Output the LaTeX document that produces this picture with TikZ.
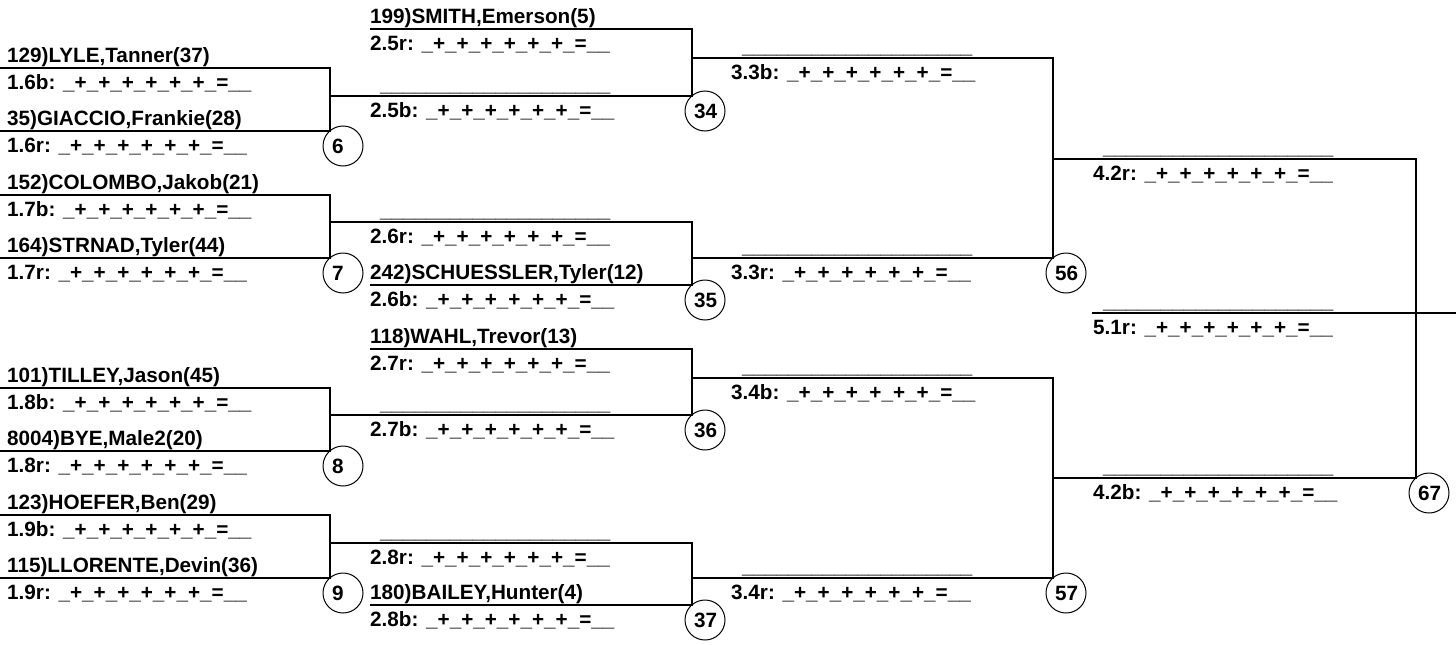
\documentclass[tikz,border=0pt]{standalone}
\usepackage{fontspec}
\setmainfont{Liberation Sans}
\usetikzlibrary{
  calc,
  positioning,
}

\newcommand{\tally}{\_+\_+\_+\_+\_+\_+\_=\_\_}
\newcommand{\tbdline}{\_\_\_\_\_\_\_\_\_\_\_\_\_\_\_\_\_\_\_\_}

\tikzset{
  lbl/.style={inner sep=0pt, text height=15pt, text depth=4pt,
    font=\fontsize{20.7pt}{24pt}\selectfont\bfseries},
  entrant/.style={lbl, anchor=south west},
  score/.style={lbl},
  tbd/.style={lbl},
  seed/.style={circle, draw, line width=1pt, minimum size=40pt, inner sep=0pt,
    text width=22pt, align=left, text height=15pt, text depth=0pt,
    font=\fontsize{20.7pt}{24pt}\selectfont\bfseries},
  bracket/.style={line width=1.2pt},
}

\begin{document}
\begin{tikzpicture}[x=1pt, y=-1pt]
\useasboundingbox (0,0) rectangle (1456,645);

\coordinate (a16b) at (0,68);
\coordinate (a16r) at (0,131);
\coordinate (a17b) at (0,195);
\coordinate (a17r) at (0,258);
\coordinate (a18b) at (0,388);
\coordinate (a18r) at (0,451);
\coordinate (a19b) at (0,515);
\coordinate (a19r) at (0,578);

\coordinate (w6) at (330,96);
\coordinate (w7) at (330,222);
\coordinate (w8) at (330,415);
\coordinate (w9) at (330,543);

\coordinate (a25r) at (370,29);
\coordinate (a26b) at (370,285);
\coordinate (a27r) at (370,349);
\coordinate (a28b) at (370,605);

\coordinate (w34) at (692,58);
\coordinate (w35) at (692,258);
\coordinate (w36) at (692,378);
\coordinate (w37) at (692,578);
\coordinate (w56) at (1053,159);
\coordinate (w57) at (1053,478);
\coordinate (w67) at (1416,313);
\coordinate (a51r) at (1092,313);
\coordinate (e51r) at (1456,313);

% first round
\node[entrant, above right=1pt and 7pt of a16b] (n16b) {129)LYLE,Tanner(37)};
\node[score, below right=6pt and 7pt of a16b] (s16b) {1.6b: \tally};
\node[entrant, above right=1pt and 7pt of a16r] (n16r) {35)GIACCIO,Frankie(28)};
\node[score, below right=6pt and 7pt of a16r] (s16r) {1.6r: \tally};
\node[entrant, above right=1pt and 7pt of a17b] (n17b) {152)COLOMBO,Jakob(21)};
\node[score, below right=6pt and 7pt of a17b] (s17b) {1.7b: \tally};
\node[entrant, above right=1pt and 7pt of a17r] (n17r) {164)STRNAD,Tyler(44)};
\node[score, below right=6pt and 7pt of a17r] (s17r) {1.7r: \tally};
\node[entrant, above right=1pt and 7pt of a18b] (n18b) {101)TILLEY,Jason(45)};
\node[score, below right=6pt and 7pt of a18b] (s18b) {1.8b: \tally};
\node[entrant, above right=1pt and 7pt of a18r] (n18r) {8004)BYE,Male2(20)};
\node[score, below right=6pt and 7pt of a18r] (s18r) {1.8r: \tally};
\node[entrant, above right=1pt and 7pt of a19b] (n19b) {123)HOEFER,Ben(29)};
\node[score, below right=6pt and 7pt of a19b] (s19b) {1.9b: \tally};
\node[entrant, above right=1pt and 7pt of a19r] (n19r) {115)LLORENTE,Devin(36)};
\node[score, below right=6pt and 7pt of a19r] (s19r) {1.9r: \tally};

\draw[bracket] (a16b) -| (w6) |- (a16r);
\draw[bracket] (a17b) -| (w7) |- (a17r);
\draw[bracket] (a18b) -| (w8) |- (a18r);
\draw[bracket] (a19b) -| (w9) |- (a19r);
\node[seed] (c6) at ($(w6 |- a16r)+(13,15)$) {6};
\node[seed] (c7) at ($(w7 |- a17r)+(13,15)$) {7};
\node[seed] (c8) at ($(w8 |- a18r)+(13,15)$) {8};
\node[seed] (c9) at ($(w9 |- a19r)+(13,15)$) {9};

% second round
\node[entrant, above right=1pt and 0pt of a25r] (n25r) {199)SMITH,Emerson(5)};
\node[score, below right=6pt and 0pt of a25r] (s25r) {2.5r: \tally};
\node[tbd, above right=0pt and 50pt of w6] (t25b) {\tbdline};
\node[score, below right=6pt and 40pt of w6] (s25b) {2.5b: \tally};
\node[tbd, above right=0pt and 50pt of w7] (t26r) {\tbdline};
\node[score, below right=6pt and 40pt of w7] (s26r) {2.6r: \tally};
\node[entrant, above right=1pt and 0pt of a26b] (n26b) {242)SCHUESSLER,Tyler(12)};
\node[score, below right=6pt and 0pt of a26b] (s26b) {2.6b: \tally};
\node[entrant, above right=1pt and 0pt of a27r] (n27r) {118)WAHL,Trevor(13)};
\node[score, below right=6pt and 0pt of a27r] (s27r) {2.7r: \tally};
\node[tbd, above right=0pt and 50pt of w8] (t27b) {\tbdline};
\node[score, below right=6pt and 40pt of w8] (s27b) {2.7b: \tally};
\node[tbd, above right=0pt and 50pt of w9] (t28r) {\tbdline};
\node[score, below right=6pt and 40pt of w9] (s28r) {2.8r: \tally};
\node[entrant, above right=1pt and 0pt of a28b] (n28b) {180)BAILEY,Hunter(4)};
\node[score, below right=6pt and 0pt of a28b] (s28b) {2.8b: \tally};

\draw[bracket] (a25r) -| (w34) |- (w6);
\draw[bracket] (w7) -| (w35) |- (a26b);
\draw[bracket] (a27r) -| (w36) |- (w8);
\draw[bracket] (w9) -| (w37) |- (a28b);
\node[seed] (c34) at ($(w34 |- w6)+(13,15)$) {34};
\node[seed] (c35) at ($(w35 |- a26b)+(13,15)$) {35};
\node[seed] (c36) at ($(w36 |- w8)+(13,15)$) {36};
\node[seed] (c37) at ($(w37 |- a28b)+(13,15)$) {37};

% third round
\node[tbd, above right=0pt and 50pt of w34] (t33b) {\tbdline};
\node[score, below right=6pt and 39pt of w34] (s33b) {3.3b: \tally};
\node[tbd, above right=0pt and 50pt of w35] (t33r) {\tbdline};
\node[score, below right=6pt and 39pt of w35] (s33r) {3.3r: \tally};
\node[tbd, above right=0pt and 50pt of w36] (t34b) {\tbdline};
\node[score, below right=6pt and 39pt of w36] (s34b) {3.4b: \tally};
\node[tbd, above right=0pt and 50pt of w37] (t34r) {\tbdline};
\node[score, below right=6pt and 39pt of w37] (s34r) {3.4r: \tally};

\draw[bracket] (w34) -| (w56) |- (w35);
\draw[bracket] (w36) -| (w57) |- (w37);
\node[seed] (c56) at ($(w56 |- w35)+(13,15)$) {56};
\node[seed] (c57) at ($(w57 |- w37)+(13,15)$) {57};

% semi and final
\node[tbd, above right=0pt and 50pt of w56] (t42r) {\tbdline};
\node[score, below right=6pt and 40pt of w56] (s42r) {4.2r: \tally};
\node[tbd, above right=0pt and 50pt of w57] (t42b) {\tbdline};
\node[score, below right=6pt and 40pt of w57] (s42b) {4.2b: \tally};
\node[tbd, above right=0pt and 11pt of a51r] (t51r) {\tbdline};
\node[score, below right=6pt and 1pt of a51r] (s51r) {5.1r: \tally};

\draw[bracket] (w56) -| (w67) |- (w57);
\draw[bracket] (a51r) -- (e51r);
\node[seed] (c67) at ($(w67 |- w57)+(13,15)$) {67};
\end{tikzpicture}
\end{document}
